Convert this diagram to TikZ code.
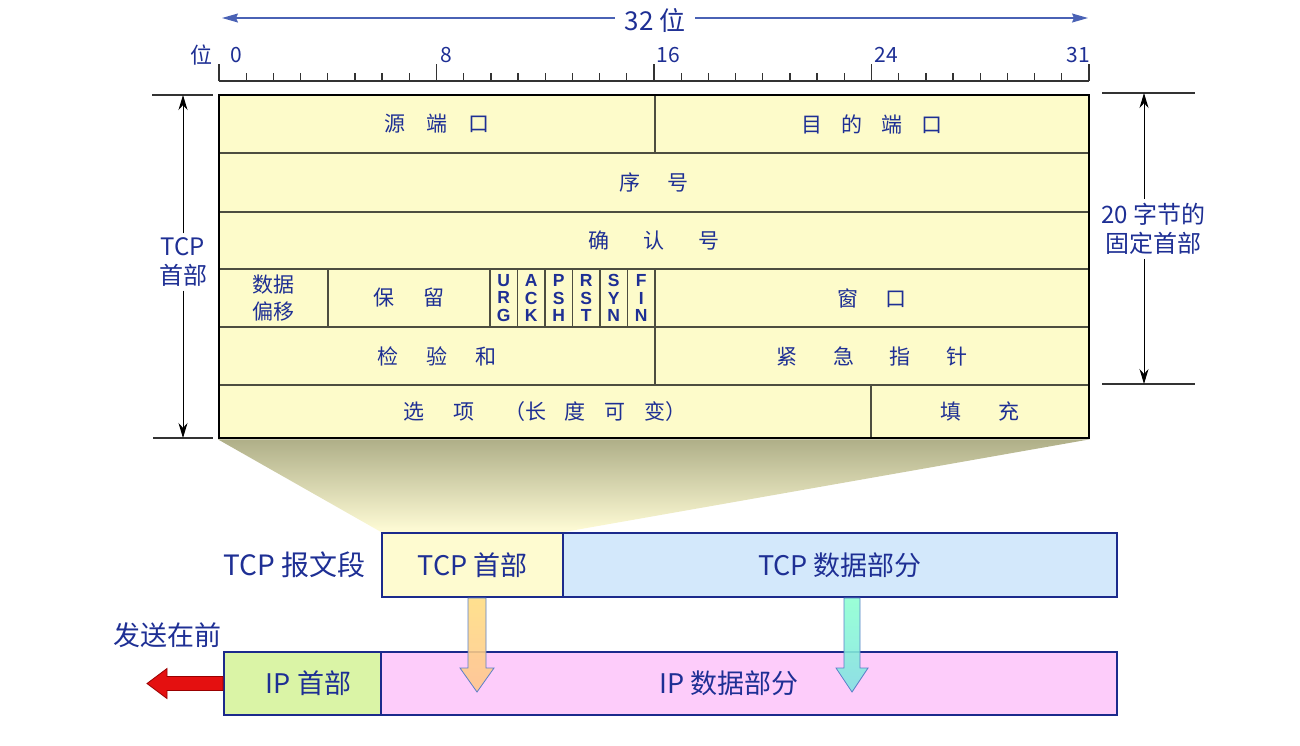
\documentclass[tikz,border=0pt]{standalone}
\usepackage{fontspec}
\setmainfont{Noto Sans CJK SC}
\setsansfont{Liberation Sans}
\usepackage{xcolor}
\definecolor{ink}{HTML}{1E2F94}
\definecolor{grid}{HTML}{4D4D40}
\definecolor{cellbg}{HTML}{FDFBCA}
\definecolor{frame}{HTML}{1B2A8C}
\definecolor{tcpbg}{HTML}{FEFBD0}
\definecolor{databg}{HTML}{D3E8FB}
\definecolor{ipbg}{HTML}{DAF4A6}
\definecolor{ipdatabg}{HTML}{FDCCFA}
\definecolor{traptop}{HTML}{AFAF88}
\definecolor{trapbot}{HTML}{FFFCD6}
\definecolor{spanblue}{HTML}{4A62B5}
\definecolor{downedge}{HTML}{5A7FC8}
\definecolor{sendred}{HTML}{E41010}
\usetikzlibrary{arrows.meta, positioning, calc, backgrounds}
\newcommand{\gap}[1]{\hspace{#1em}}

\begin{document}
\begin{tikzpicture}[x=1pt, y=-1pt,
  every node/.style={text=ink},
  cell/.style={draw=grid, line width=1.3pt, fill=cellbg, inner sep=0pt,
               font=\fontsize{21}{25}\selectfont},
  flag/.style={cell, minimum width=27.5pt, minimum height=58pt, align=center,
               font=\sffamily\bfseries\fontsize{17.5}{17.5}\selectfont},
  seg/.style={draw=frame, line width=2pt, inner sep=0pt, minimum height=64pt,
              font=\fontsize{27}{30}\selectfont},
  side/.style={align=center, inner sep=4pt, font=\fontsize{24}{29}\selectfont},
  rulenum/.style={inner sep=0pt, font=\fontsize{21}{24}\selectfont},
  onedim/.style={-{Stealth[length=15pt,width=9pt]}, line width=1pt, black},
  ext/.style={line width=1.3pt, black!80},
  tick/.style={line width=1.3pt, black!80},
  span/.style={{Stealth[length=16pt,width=9pt,inset=2pt]}-{Stealth[length=16pt,width=9pt,inset=2pt]},
               line width=1.3pt, spanblue},
  down/.style={draw=downedge, line width=0.8pt, fill opacity=0.88}
]
  \useasboundingbox (0,0) rectangle (1300,745);

  % bit ruler
  \draw[span] (222,18) coordinate (wl) -- (1088,18) coordinate (wr);
  \node[fill=white, inner sep=10pt, font=\fontsize{26}{28}\selectfont] (width) at (655,20) {32 位};
  \draw[tick] (219,81) coordinate (r0) -- (1089,81) coordinate (r32);
  \foreach \i in {0,...,32}
    \draw[tick] ($(r0)!\i/32!(r32)$) -- ++(0,-8);
  \foreach \i in {0,8,16,24,32}
    \draw[tick] ($(r0)!\i/32!(r32)$) -- ++(0,-17);
  \foreach \x/\t in {236/0, 446/8, 668/16, 886/24, 1078/31}
    \node[rulenum] (n\t) at (\x,55) {\t};
  \node[rulenum, font=\fontsize{22}{24}\selectfont] (bitlbl) at (201,55) {位};

  % header fields
  \node[cell, minimum width=436pt, minimum height=58pt] (src) at (437,124) {源\gap{1}端\gap{1}口};
  \node[cell, minimum width=434pt, minimum height=58pt] (dst) at (872,124) {目\gap{0.9}的\gap{0.9}端\gap{0.9}口};
  \node[cell, minimum width=870pt, minimum height=59pt] (seq) at (654,182.5) {序\gap{1.3}号};
  \node[cell, minimum width=870pt, minimum height=57pt] (ack) at (654,240.5) {确\gap{1.6}认\gap{1.6}号};
  \node[cell, minimum width=109pt, minimum height=58pt, align=center,
        font=\fontsize{21}{27}\selectfont] (off) at (273.5,298) {数据\\偏移};
  \node[cell, minimum width=162pt, minimum height=58pt] (rsv) at (409,298) {保\gap{1.4}留};
  \foreach \f [count=\i from 0] in {U\\R\\G, A\\C\\K, P\\S\\H, R\\S\\T, S\\Y\\N, F\\I\\N}
    \node[flag] (flag\i) at (503.75+27.5*\i,298) {\f};
  \node[cell, minimum width=434pt, minimum height=58pt] (win) at (872,298) {窗\gap{1.3}口};
  \node[cell, minimum width=436pt, minimum height=58pt] (chk) at (437,356) {检\gap{1.35}验\gap{1.35}和};
  \node[cell, minimum width=434pt, minimum height=58pt] (urg) at (872,356) {紧\gap{1.7}急\gap{1.7}指\gap{1.7}针};
  \node[cell, minimum width=652pt, minimum height=53pt] (opt) at (545,411.5)
    {选\gap{1.4}项\gap{1.4}（长\gap{0.9}度\gap{0.9}可\gap{0.9}变）};
  \node[cell, minimum width=218pt, minimum height=53pt] (pad) at (980,411.5) {填\gap{1.8}充};
  \node[draw=black, line width=2.5pt, inner sep=0pt, minimum width=870pt,
        minimum height=343pt] (hdr) at (654,266.5) {};

  % header size marks
  \draw[ext] (152,95) -- (213,95) coordinate (ltop);
  \draw[ext] (153,438) -- (213,438) coordinate (lbot);
  \node[side] (tcplbl) at (183,262) {TCP\\首部};
  \draw[onedim] (tcplbl.north) -- (tcplbl.north |- ltop);
  \draw[onedim] (tcplbl.south) -- (tcplbl.south |- lbot);

  \draw[ext] (1102,93) -- (1195,93) coordinate (rtop);
  \draw[ext] (1102,384) -- (1195,384) coordinate (rbot);
  \node[side] (fixlbl) at (1153,229) {20 字节的\\固定首部};
  \coordinate (rline) at (1144,229);
  \draw[onedim] (fixlbl.north -| rline) -- (rline |- rtop);
  \draw[onedim] (fixlbl.south -| rline) -- (rline |- rbot);

  % segment and datagram
  \node[seg, fill=tcpbg, minimum width=181pt] (tcphdr) at (472.5,565) {TCP 首部};
  \node[seg, fill=databg, minimum width=554pt] (tcpdata) at (840,565) {TCP 数据部分};
  \node[seg, fill=ipbg, minimum width=157pt, minimum height=63pt] (iphdr) at (302.5,683.5) {\kern12pt IP 首部};
  \node[seg, fill=ipdatabg, minimum width=736pt, minimum height=63pt] (ipdata) at (749,683.5) {IP 数据部分\kern40pt};
  \node[inner sep=0pt, left=15pt of tcphdr, font=\fontsize{28}{30}\selectfont] (seglbl) {TCP 报文段};
  \node[inner sep=1pt, above left=2pt and 0pt of iphdr.north west,
        font=\fontsize{27}{30}\selectfont] (sendlbl) {发送在前};

  \begin{scope}[on background layer]
    \shade[top color=traptop, bottom color=trapbot]
      (hdr.south west) -- (hdr.south east) -- (tcphdr.north east) -- (tcphdr.north west) -- cycle;
  \end{scope}

  \path[down, top color=yellow!45!orange!50, bottom color=orange!45]
    ($(tcphdr.south)+(-4.5,0)$) -- ++(0,70) -- ++(-8,0) -- ++(17,24) -- ++(17,-24)
    -- ++(-8,0) -- ++(0,-70) -- cycle;
  \path[down, top color=green!40!cyan!45, bottom color=teal!45!cyan!50]
    ($(tcpdata.south)+(4,0)$) -- ++(0,70) -- ++(-8,0) -- ++(16,24) -- ++(16,-24)
    -- ++(-8,0) -- ++(0,-70) -- cycle;
  \path[draw=red!60!black, line width=0.8pt, fill=sendred]
    ($(iphdr.west)+(0,-7)$) -- ++(-56,0) -- ++(0,-8) -- ++(-20,15) -- ++(20,15)
    -- ++(0,-8) -- ++(56,0) -- cycle;
\end{tikzpicture}
\end{document}
